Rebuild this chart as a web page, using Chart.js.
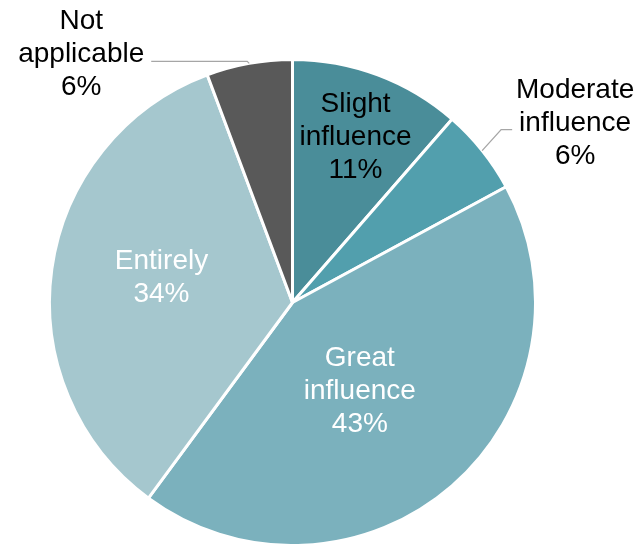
<!DOCTYPE html>
<html>
<head>
<meta charset="utf-8">
<script src="https://cdn.jsdelivr.net/npm/chart.js@4/dist/chart.umd.min.js"></script>
<style>
  html, body { margin: 0; padding: 0; background: #fff; }
  #wrap { width: 642px; height: 544px; position: relative; }
</style>
</head>
<body>
<div id="wrap"><canvas id="myChart"></canvas></div>
<script>
// data, clockwise from 12 o'clock
const categories = ['Slight influence', 'Moderate influence', 'Great influence', 'Entirely', 'Not applicable'];
const labelLines = [['Slight', 'influence'], ['Moderate', 'influence'], ['Great', 'influence'], ['Entirely'], ['Not', 'applicable']];
const shares = [11.4, 5.7, 43.0, 34.2, 5.7];
const colors = ['#4a8d99', '#529fad', '#7bb1bd', '#a5c7ce', '#595959'];
const textColors = ['#000', '#000', '#fff', '#fff', '#000'];

// where each label goes: inside at a fraction of the radius, or outside with a leader
const labelLayout = [
  { inside: 0.74, dAngle: 0, dy: 3 },
  { outside: true, text: [93, -27], leader: [[19, -21], [30, -21]] },
  { inside: 0.46, dAngle: 4, dy: 0 },
  { inside: 0.55, dAngle: 3.5, dy: 2 },
  { outside: true, text: [-168, -9], leader: [[-2, -2], [-98, -2]] }
];

const pieLabels = {
  id: 'pieLabels',
  afterDatasetsDraw(chart) {
    const ctx = chart.ctx;
    const meta = chart.getDatasetMeta(0);
    const total = shares.reduce((a, b) => a + b, 0);
    ctx.save();
    ctx.font = '28px "Liberation Sans", Arial, sans-serif';
    ctx.textAlign = 'center';
    ctx.textBaseline = 'middle';
    meta.data.forEach((arc, i) => {
      const p = arc.getProps(['x', 'y', 'startAngle', 'endAngle', 'outerRadius'], true);
      const lay = labelLayout[i];
      const lines = labelLines[i].concat([Math.round(shares[i] / total * 100) + '%']);
      let mid = (p.startAngle + p.endAngle) / 2;
      let cx, cy;
      if (lay.inside) {
        mid += (lay.dAngle || 0) * Math.PI / 180;
        cx = p.x + Math.cos(mid) * p.outerRadius * lay.inside;
        cy = p.y + Math.sin(mid) * p.outerRadius * lay.inside + (lay.dy || 0);
      } else {
        const ax = p.x + Math.cos(mid) * p.outerRadius;
        const ay = p.y + Math.sin(mid) * p.outerRadius;
        ctx.strokeStyle = '#a6a6a6';
        ctx.lineWidth = 1.3;
        ctx.beginPath();
        ctx.moveTo(ax, ay);
        lay.leader.forEach(pt => ctx.lineTo(ax + pt[0], ay + pt[1]));
        ctx.stroke();
        cx = ax + lay.text[0];
        cy = ay + lay.text[1];
      }
      ctx.fillStyle = textColors[i];
      const lh = 33;
      const y0 = cy - (lines.length - 1) * lh / 2;
      lines.forEach((t, k) => ctx.fillText(t, cx, y0 + k * lh));
    });
    ctx.restore();
  }
};

new Chart(document.getElementById('myChart'), {
  type: 'pie',
  data: {
    labels: categories,
    datasets: [{
      data: shares,
      backgroundColor: colors,
      borderColor: '#ffffff',
      borderWidth: 3,
      hoverOffset: 0
    }]
  },
  options: {
    responsive: true,
    maintainAspectRatio: false,
    animation: false,
    radius: 243,
    layout: { padding: { left: 0, right: 57, top: 61, bottom: 0 } },
    plugins: {
      legend: { display: false },
      tooltip: { enabled: false }
    }
  },
  plugins: [pieLabels]
});
</script>
</body>
</html>
